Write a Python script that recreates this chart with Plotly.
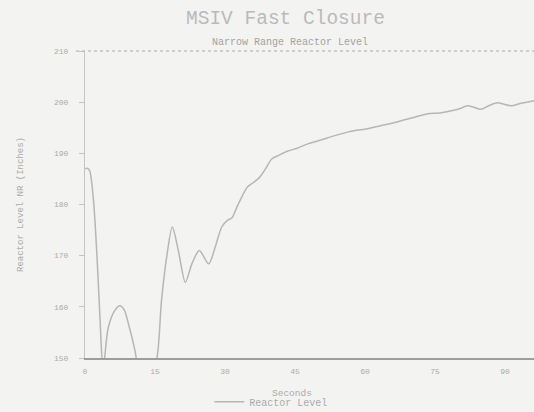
import plotly.graph_objects as go

# Narrow range reactor level after MSIV fast closure
seconds = [0, 0.5, 1.0, 1.8, 2.5, 3.2, 3.6, 3.9, 4.2, 5.0, 6.4, 7.5, 8.4, 9.3, 10.7,
           11.3, 12.5, 14.0, 15.4, 16.4, 17.5, 18.7, 20.0, 21.5, 22.9, 24.5, 26.5,
           27.9, 29.3, 30.5, 31.5, 32.5, 33.6, 34.8, 36.1, 37.4, 38.7, 40.0, 41.5,
           43.3, 45.5, 47.6, 49.8, 51.9, 54.5, 57.6, 60.5, 63.3, 65.8, 68.3, 70.8,
           73.3, 76.0, 79.0, 80.5, 81.9, 83.3, 84.8, 86.5, 88.3, 89.8, 91.2, 93.5,
           96.2, 98.0]
level = [187.0, 187.1, 186.6, 181.0, 171.0, 158.0, 150.5, 148.0, 150.0, 156.0, 159.3,
         160.2, 159.4, 156.7, 151.5, 148.5, 146.0, 146.5, 150.0, 161.3, 169.7, 175.6,
         171.0, 164.8, 168.4, 171.0, 168.4, 171.7, 175.6, 176.9, 177.4, 179.4, 181.5,
         183.4, 184.3, 185.3, 187.0, 188.9, 189.6, 190.4, 191.0, 191.8, 192.4, 193.0,
         193.7, 194.4, 194.8, 195.4, 195.9, 196.5, 197.1, 197.7, 197.9, 198.4, 198.8,
         199.3, 199.0, 198.6, 199.3, 199.9, 199.6, 199.3, 199.8, 200.3, 200.5]

x_ticks = [0, 15, 30, 45, 60, 75, 90]
y_ticks = [150, 160, 170, 180, 190, 200, 210]

ink = "#ababab"
mono = "Liberation Mono, DejaVu Sans Mono, monospace"

fig = go.Figure()
fig.add_trace(go.Scatter(
    x=seconds, y=level, mode="lines", name="Reactor Level",
    line=dict(color="#b6b6b6", width=1.5, shape="spline", smoothing=0.8),
))

fig.update_layout(
    width=534, height=412,
    margin=dict(l=85, r=0, t=51, b=54),
    paper_bgcolor="#f3f3f1",
    plot_bgcolor="#f3f3f1",
    font=dict(family=mono, color=ink, size=8),
    showlegend=True,
    legend=dict(
        orientation="h", xref="container", yref="container",
        x=0.392, y=0.025, xanchor="left", yanchor="middle",
        bgcolor="rgba(0,0,0,0)", font=dict(size=10, color=ink),
        itemwidth=30,
    ),
    xaxis=dict(
        range=[0, 96.2], tickvals=x_ticks, showgrid=False, zeroline=False,
        showline=True, linecolor="#9d9d9d", linewidth=2,
        ticks="", ticklabelstandoff=4,
    ),
    yaxis=dict(
        range=[150, 210], tickvals=y_ticks, showgrid=False, zeroline=False,
        showline=True, linecolor="#c4c4c4", linewidth=1,
        ticks="outside", ticklen=5, tickcolor="#c4c4c4", ticklabelstandoff=9,
        title=dict(text="Reactor Level NR (Inches)", font=dict(size=9, color=ink),
                   standoff=28),
    ),
    annotations=[
        dict(text="MSIV Fast Closure", xref="paper", yref="paper",
             x=(285 - 85) / 449, y=1 + (51 - 19) / 307, showarrow=False,
             font=dict(family=mono, size=19.5, color="#bababa"),
             xanchor="center", yanchor="middle"),
        dict(text="Narrow Range Reactor Level", xref="paper", yref="paper",
             x=(290 - 85) / 449, y=1 + (51 - 42) / 307, showarrow=False,
             font=dict(family=mono, size=10, color="#a3a3a3"),
             xanchor="center", yanchor="middle"),
        dict(text="Seconds", xref="paper", yref="paper",
             x=(292 - 85) / 449, y=-(393 - 358) / 307, showarrow=False,
             font=dict(family=mono, size=9.5, color=ink),
             xanchor="center", yanchor="middle"),
    ],
    shapes=[
        dict(type="line", xref="paper", yref="paper", x0=-0.02, x1=1, y0=1, y1=1,
             line=dict(color="#c2c2c2", width=1.5, dash="dot")),
    ],
)

fig.write_html("out.html")
